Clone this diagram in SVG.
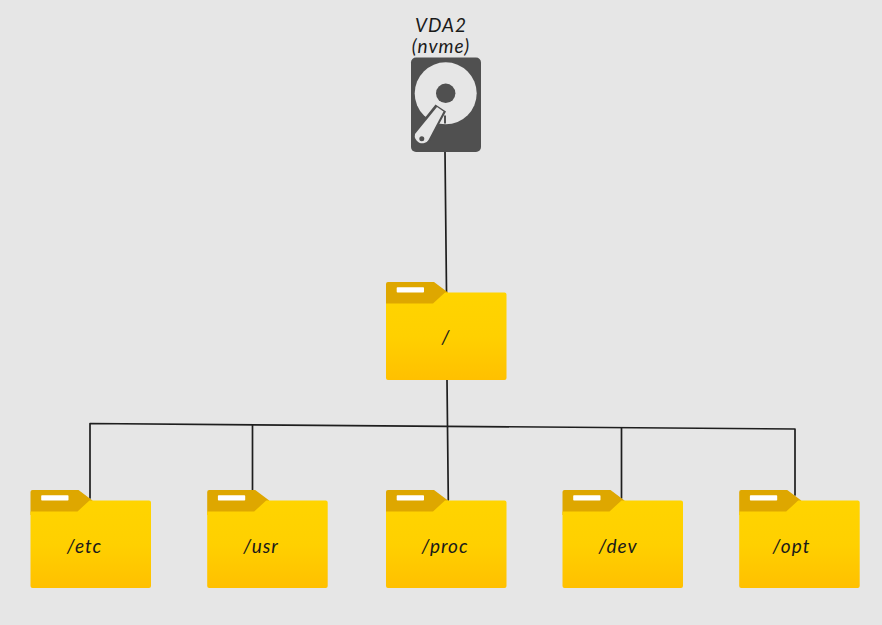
<svg xmlns="http://www.w3.org/2000/svg" width="882" height="625" viewBox="0 0 882 625">
<style>
.c{fill:none;stroke:#1e1e1e;stroke-width:1.7;stroke-linecap:round;stroke-linejoin:round}
.t{font-family:"Lato","Open Sans",sans-serif;font-style:italic;font-weight:400;font-size:19px;letter-spacing:1px;fill:#1a1a1a;text-anchor:middle}
</style>
<defs>
<linearGradient id="fg" x1="0" y1="0" x2="0" y2="1"><stop offset="0" stop-color="#ffd400"/><stop offset="0.5" stop-color="#ffd000"/><stop offset="1" stop-color="#ffc000"/></linearGradient>
<symbol id="folder" width="121" height="99" viewBox="0 0 121 99" overflow="visible">
<path d="M2,0H48L62,10.500V25H0V2A2,2 0 0 1 2,0Z" fill="#dea700"/>
<path d="M0,21.500H47L59,10.500H118.500A2,2 0 0 1 120.500,12.500V96A2,2 0 0 1 118.500,98H2A2,2 0 0 1 0,96Z" fill="url(#fg)"/>
<rect x="10.700" y="5.300" width="27.300" height="5.200" rx="0.800" fill="#fff"/>
</symbol>
</defs>
<rect width="882" height="625" fill="#e6e6e6"/>
<g id="connectors">
<path class="c" d="M445,152L446.500,292"/>
<path class="c" d="M447,380L448.300,500"/>
<path class="c" d="M90,498V423.500L795,429V495"/>
<path class="c" d="M252.500,425V491"/>
<path class="c" d="M621.500,428V498"/>
</g>
<g id="drive">
<rect x="411" y="57.500" width="70" height="94.500" rx="5" fill="#505050"/>
<circle cx="445.700" cy="93.300" r="31" fill="#e6e6e6"/>
<circle cx="445.700" cy="93.300" r="9.700" fill="#505050"/>
<path d="M435.500,104.500L446,111.500L431,139A10,10 0 0 1 412,134Z" fill="#505050"/>
<path d="M437,107L443.500,111.500L428.500,140A7.500,7.500 0 0 1 415,134Z" fill="#e6e6e6"/>
<circle cx="421.800" cy="138.800" r="2.500" fill="#505050"/>
<path d="M445,115.500V123.500" stroke="#1e1e1e" stroke-width="1.500" fill="none"/>
<text class="t" x="441" y="32">VDA2</text>
<text class="t" x="441" y="53">(nvme)</text>
</g>
<g id="root"><use href="#folder" x="386" y="282"/><text class="t" x="446" y="344">/</text></g>
<g id="etc"><use href="#folder" x="30.500" y="490"/><text class="t" x="84.500" y="553">/etc</text></g>
<g id="usr"><use href="#folder" x="207.200" y="490"/><text class="t" x="261" y="553">/usr</text></g>
<g id="proc"><use href="#folder" x="386" y="490"/><text class="t" x="445" y="553">/proc</text></g>
<g id="dev"><use href="#folder" x="562.500" y="490"/><text class="t" x="618" y="553">/dev</text></g>
<g id="opt"><use href="#folder" x="739.200" y="490"/><text class="t" x="791.500" y="553">/opt</text></g>
</svg>
